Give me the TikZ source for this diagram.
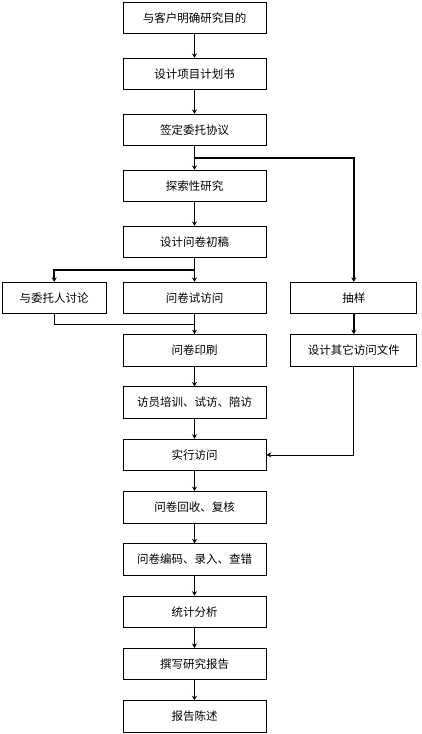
\documentclass[tikz,border=0pt]{standalone}
\usepackage{fontspec}
\setmainfont{Noto Sans CJK SC}
\usetikzlibrary{arrows.meta,positioning,calc}

\begin{document}
\begin{tikzpicture}[x=1pt, y=1pt, font=\fontsize{11.5}{13}\selectfont, node distance=20pt,
  box/.style={draw,line width=0.8pt,minimum width=143pt,minimum height=31.5pt,inner sep=0pt},
  arr/.style={-{Stealth[length=4.5pt,width=5pt]},line width=1.6pt},
  ln/.style={line width=0.7pt}]
\useasboundingbox (0,0) rectangle (422,-734);
\node[box] (s1) at (194.5,-18) {与客户明确研究目的};
\node[box, below=23.7pt of s1] (s2) {设计项目计划书};
\node[box, below=23.7pt of s2] (s3) {签定委托协议};
\node[box, below=23.7pt of s3] (s4) {探索性研究};
\node[box, below=23.7pt of s4] (s5) {设计问卷初稿};
\node[box, below=23.7pt of s5] (s6) {问卷试访问};
\node[box, below=of s6] (s7) {问卷印刷};
\node[box, below=of s7] (s8) {访员培训、试访、陪访};
\node[box, below=of s8] (s9) {实行访问};
\node[box, below=of s9] (s10) {问卷回收、复核};
\node[box, below=of s10] (s11) {问卷编码、录入、查错};
\node[box, below=of s11] (s12) {统计分析};
\node[box, below=of s12] (s13) {撰写研究报告};
\node[box, below=of s13] (s14) {报告陈述};
\node[box, minimum width=104pt, left=16pt of s6] (discuss) {与委托人讨论};
\node[box, minimum width=126pt, right=24pt of s6] (sample) {抽样};
\node[box, minimum width=126pt] (files) at (sample |- s7) {设计其它访问文件};
\foreach \a/\b in {s1/s2,s2/s3,s3/s4,s4/s5,s5/s6,s6/s7,s7/s8,s8/s9,s9/s10,s10/s11,s11/s12,s12/s13,s13/s14,sample/files} \draw[arr] (\a) -- (\b);
\draw[arr] ($(s3.south)!0.5!(s4.north)$) -| (sample.north);
\draw[arr] ($(s5.south)!0.5!(s6.north)$) -| (discuss.north);
\draw[ln] (discuss.south) |- ($(s6.south)!0.5!(s7.north)$);
\draw[ln,-{Stealth[length=5pt,width=5pt]}] (files.south) |- (s9.east);
\end{tikzpicture}
\end{document}
